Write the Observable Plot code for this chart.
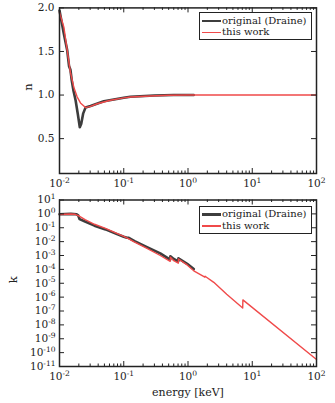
<!DOCTYPE html>
<html><head><meta charset="utf-8">
<script src="https://cdn.jsdelivr.net/npm/d3@7"></script>
<script src="https://cdn.jsdelivr.net/npm/@observablehq/plot@0.6"></script>
<style>
body{margin:0;background:#fff;}
#wrap{position:relative;width:335px;height:403px;font-family:"DejaVu Serif",serif;color:#222;}
#wrap svg{display:block;}
.legend{position:absolute;left:199px;width:111px;height:26px;border:1.5px solid #222;background:#fff;font-size:10px;line-height:1;}
.legend .ln{position:absolute;left:1.5px;width:19px;}
.legend .tx{position:absolute;left:22px;white-space:nowrap;}
</style>
</head><body>
<div id="wrap"></div>
<script>
// ---- data ----
const seriesNames = ["original (Draine)", "this work"];
const seriesColors = ["#3d3d3d", "#f04a4a"];

// refractive index n (top panel)
const nDraineE = [0.01, 0.0117, 0.0132, 0.0141, 0.0148, 0.0155, 0.0165, 0.0178, 0.0193, 0.0207, 0.0218, 0.0234, 0.0254, 0.0304, 0.049, 0.1, 0.127, 0.3, 0.6, 1.23];
const nDraineV = [1.97, 1.70, 1.51, 1.33, 1.29, 1.17, 1.05, 0.94, 0.78, 0.63, 0.67, 0.79, 0.856, 0.875, 0.93, 0.97, 0.98, 0.995, 1.0, 1.0];
const nWorkE = [0.01, 0.0117, 0.0132, 0.0148, 0.0167, 0.0188, 0.0212, 0.0254, 0.0304, 0.0387, 0.0622, 0.1, 0.127, 0.26, 0.5, 1, 100];
const nWorkV = [1.95, 1.78, 1.51, 1.26, 1.09, 0.98, 0.91, 0.856, 0.87, 0.90, 0.94, 0.968, 0.977, 0.99, 0.997, 1.0, 1.0];

// extinction k (bottom panel)
const kDraineE = [0.01, 0.015, 0.0185, 0.0195, 0.0205, 0.025, 0.035, 0.052, 0.075, 0.1, 0.112, 0.118, 0.15, 0.23, 0.37, 0.528, 0.532, 0.6, 0.705, 0.71, 0.97, 1.23];
const kDraineV = [0.95, 1.0, 0.93, 0.79, 0.42, 0.28, 0.141, 0.076, 0.038, 0.0224, 0.019, 0.019, 0.0105, 4.0e-3, 1.41e-3, 5.0e-4, 8.9e-4, 5.6e-4, 3.8e-4, 6.3e-4, 2.5e-4, 1.05e-4];
const kWorkE = [0.01, 0.012, 0.015, 0.0175, 0.02, 0.025, 0.035, 0.052, 0.075, 0.1, 0.12, 0.143, 0.23, 0.37, 0.528, 0.532, 0.6, 0.705, 0.71, 0.97, 1.23, 1.83, 1.845, 2.52, 4.0, 7.1, 7.15, 100];
const kWorkV = [0.89, 0.95, 0.98, 0.93, 0.71, 0.38, 0.178, 0.089, 0.042, 0.024, 0.0158, 0.01, 3.2e-3, 1e-3, 3.8e-4, 7.6e-4, 4.2e-4, 2.8e-4, 5.6e-4, 2.1e-4, 7.9e-5, 2.75e-5, 3.2e-5, 1.17e-5, 1.6e-6, 1.66e-7, 6.3e-7, 3.2e-11];

// ticks
const xMajor = [0.01, 0.1, 1, 10, 100];
const xMinorMult = [2, 3, 4, 5, 6, 7, 8, 9];
const nTicks = [0.5, 1.0, 1.5, 2.0];
const kTicks = [1e1, 1e0, 1e-1, 1e-2, 1e-3, 1e-4, 1e-5, 1e-6, 1e-7, 1e-8, 1e-9, 1e-10, 1e-11];

// ---- build ----
const xMinor = xMajor.slice(0, -1).flatMap(d => xMinorMult.map(m => d * m));
const zip = (E, V) => E.map((e, i) => ({E: e, v: V[i]}));
const powFmt = d => "10^" + Math.round(Math.log10(d));
const W = 335, ML = 59, MR = 19;
const innerW = W - ML - MR;
const FS = "10.5px";
const frameColor = "#222";

function tickSet(innerH, yMajor) {
  const s = {stroke: frameColor, strokeWidth: 1};
  return [
    Plot.tickX(xMajor, {x: d => d, insetTop: innerH - 5, ...s}),
    Plot.tickX(xMajor, {x: d => d, insetBottom: innerH - 5, ...s}),
    Plot.tickX(xMinor, {x: d => d, insetTop: innerH - 2.5, ...s}),
    Plot.tickX(xMinor, {x: d => d, insetBottom: innerH - 2.5, ...s}),
    Plot.tickY(yMajor, {y: d => d, insetRight: innerW - 5, ...s}),
    Plot.tickY(yMajor, {y: d => d, insetLeft: innerW - 5, ...s})
  ];
}

function lines(dr, wk) {
  return [
    Plot.line(dr, {x: "E", y: "v", stroke: seriesColors[0], strokeWidth: 2.6}),
    Plot.line(wk, {x: "E", y: "v", stroke: seriesColors[1], strokeWidth: 1.4})
  ];
}

const style = {fontFamily: "DejaVu Serif", fontSize: FS, color: frameColor, background: "white", overflow: "visible"};

const H1 = 193, MT1 = 7.4, MB1 = 20;
const topPlot = Plot.plot({
  width: W, height: H1, marginTop: MT1, marginBottom: MB1, marginLeft: ML, marginRight: MR,
  style,
  x: {type: "log", domain: [0.01, 100], label: null},
  y: {domain: [0.1, 2.0], label: null},
  marks: [
    ...lines(zip(nDraineE, nDraineV), zip(nWorkE, nWorkV)),
    ...tickSet(H1 - MT1 - MB1, nTicks),
    Plot.frame({stroke: frameColor, strokeWidth: 1.5}),
    Plot.axisX({ticks: xMajor, tickSize: 0, tickPadding: 6, tickFormat: powFmt, label: null}),
    Plot.axisY({ticks: nTicks, tickSize: 0, tickPadding: 5, tickFormat: d3.format(".1f"), label: null}),
    Plot.text(["n"], {text: d => d, frameAnchor: "left", dx: -31, rotate: -90, fontSize: 11.5})
  ]
});

const H2 = 210, MT2 = 6.5, MB2 = 37;
const bottomPlot = Plot.plot({
  width: W, height: H2, marginTop: MT2, marginBottom: MB2, marginLeft: ML, marginRight: MR,
  style,
  x: {type: "log", domain: [0.01, 100], label: null},
  y: {type: "log", domain: [1e-11, 10], label: null},
  marks: [
    ...lines(zip(kDraineE, kDraineV), zip(kWorkE, kWorkV)),
    ...tickSet(H2 - MT2 - MB2, kTicks),
    Plot.frame({stroke: frameColor, strokeWidth: 1.5}),
    Plot.axisX({ticks: xMajor, tickSize: 0, tickPadding: 6, tickFormat: powFmt, label: null}),
    Plot.axisY({ticks: kTicks, tickSize: 0, tickPadding: 4, tickFormat: powFmt, label: null}),
    Plot.text(["k"], {text: d => d, frameAnchor: "left", dx: -46, rotate: -90, fontSize: 11.5}),
    Plot.text(["energy [keV]"], {text: d => d, frameAnchor: "bottom", dy: 29, fontSize: 11})
  ]
});

const ns = "http://www.w3.org/2000/svg";
function supify(svg) {
  svg.querySelectorAll("text").forEach(t => {
    const m = /^10\^(.+)$/.exec(t.textContent);
    if (!m) return;
    t.textContent = "";
    const a = document.createElementNS(ns, "tspan"); a.textContent = "10";
    const b = document.createElementNS(ns, "tspan"); b.textContent = m[1];
    b.setAttribute("dy", "-0.55em"); b.setAttribute("style", "font-size:72%");
    t.append(a, b);
  });
}
supify(topPlot); supify(bottomPlot);

const wrap = document.getElementById("wrap");
wrap.append(topPlot, bottomPlot);

function legend(topPx) {
  const L = document.createElement("div");
  L.className = "legend";
  L.style.top = topPx + "px";
  seriesNames.forEach((name, i) => {
    const cy = i === 0 ? 8 : 19.5;
    const ln = document.createElement("div");
    ln.className = "ln";
    const lw = i === 0 ? 2.6 : 1.4;
    ln.style.top = (cy - lw / 2) + "px";
    ln.style.height = lw + "px";
    ln.style.background = seriesColors[i];
    const tx = document.createElement("div");
    tx.className = "tx";
    tx.style.top = (cy - 5.5) + "px";
    tx.textContent = name;
    L.append(ln, tx);
  });
  wrap.append(L);
}
legend(12);
legend(205.5);
</script>
</body></html>
